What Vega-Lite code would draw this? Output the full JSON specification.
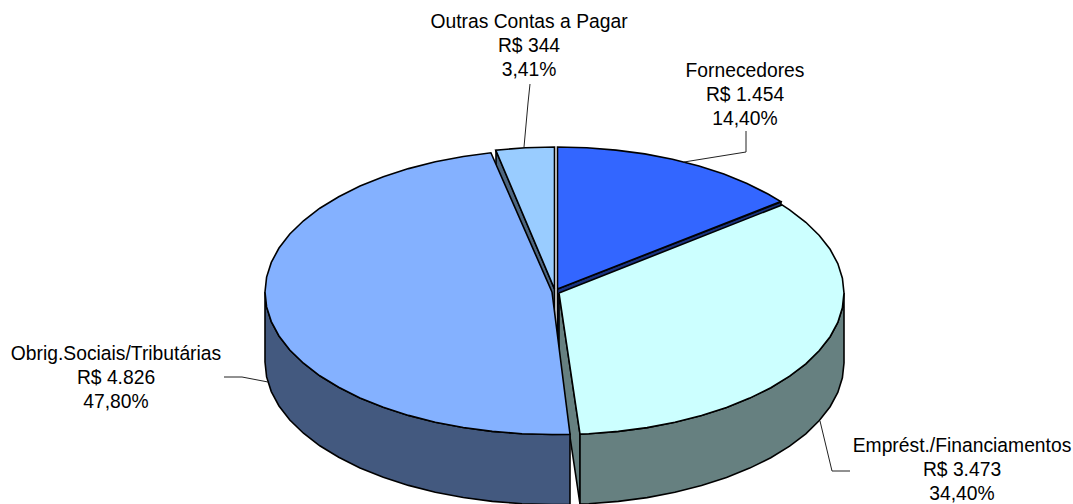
{"$schema":"https://vega.github.io/schema/vega-lite/v6.json","width":1073,"height":504,"padding":0,"autosize":"none","background":"white","view":{"stroke":null},
"datasets":{
"faces":[
{"part":"a","i":0,"x":557.5,"y":289},{"part":"a","i":1,"x":781,"y":202},{"part":"a","i":2,"x":781,"y":272},{"part":"a","i":3,"x":557.5,"y":359},{"part":"a","i":4,"x":557.5,"y":289},
{"part":"b","i":0,"x":554.5,"y":289},{"part":"b","i":1,"x":496,"y":150},{"part":"b","i":2,"x":496,"y":220},{"part":"b","i":3,"x":554.5,"y":359},{"part":"b","i":4,"x":554.5,"y":289},
{"part":"c","i":0,"x":559,"y":293},{"part":"c","i":1,"x":580,"y":434},{"part":"c","i":2,"x":580,"y":504},{"part":"c","i":3,"x":559,"y":363},{"part":"c","i":4,"x":559,"y":293},
{"part":"d","i":0,"x":844,"y":293},{"part":"d","i":1,"x":842.4,"y":307.8},{"part":"d","i":2,"x":837.8,"y":322.4},{"part":"d","i":3,"x":830.1,"y":336.7},{"part":"d","i":4,"x":819.3,"y":350.5},{"part":"d","i":5,"x":805.8,"y":363.8},{"part":"d","i":6,"x":789.6,"y":376.2},{"part":"d","i":7,"x":770.8,"y":387.7},{"part":"d","i":8,"x":749.7,"y":398.1},{"part":"d","i":9,"x":726.5,"y":407.5},{"part":"d","i":10,"x":701.5,"y":415.5},{"part":"d","i":11,"x":674.9,"y":422.3},{"part":"d","i":12,"x":647.1,"y":427.6},{"part":"d","i":13,"x":618.3,"y":431.4},{"part":"d","i":14,"x":588.8,"y":433.7},{"part":"d","i":15,"x":580,"y":434.1},{"part":"d","i":16,"x":580,"y":504.1},{"part":"d","i":17,"x":588.8,"y":503.7},{"part":"d","i":18,"x":618.3,"y":501.4},{"part":"d","i":19,"x":647.1,"y":497.6},{"part":"d","i":20,"x":674.9,"y":492.3},{"part":"d","i":21,"x":701.5,"y":485.5},{"part":"d","i":22,"x":726.5,"y":477.5},{"part":"d","i":23,"x":749.7,"y":468.1},{"part":"d","i":24,"x":770.8,"y":457.7},{"part":"d","i":25,"x":789.6,"y":446.2},{"part":"d","i":26,"x":805.8,"y":433.8},{"part":"d","i":27,"x":819.3,"y":420.5},{"part":"d","i":28,"x":830.1,"y":406.7},{"part":"d","i":29,"x":837.8,"y":392.4},{"part":"d","i":30,"x":842.4,"y":377.8},{"part":"d","i":31,"x":844,"y":363},{"part":"d","i":32,"x":844,"y":293},
{"part":"e","i":0,"x":265,"y":292},{"part":"e","i":1,"x":266.6,"y":306.9},{"part":"e","i":2,"x":271.3,"y":321.6},{"part":"e","i":3,"x":279,"y":336},{"part":"e","i":4,"x":289.8,"y":350},{"part":"e","i":5,"x":303.5,"y":363.25},{"part":"e","i":6,"x":319.8,"y":375.8},{"part":"e","i":7,"x":338.7,"y":387.3},{"part":"e","i":8,"x":360,"y":397.9},{"part":"e","i":9,"x":383.3,"y":407.3},{"part":"e","i":10,"x":408.5,"y":415.4},{"part":"e","i":11,"x":435.3,"y":422.2},{"part":"e","i":12,"x":463.3,"y":427.5},{"part":"e","i":13,"x":492.3,"y":431.4},{"part":"e","i":14,"x":522,"y":433.7},{"part":"e","i":15,"x":552,"y":434.5},{"part":"e","i":16,"x":570,"y":434.2},{"part":"e","i":17,"x":570,"y":504.2},{"part":"e","i":18,"x":552,"y":504.5},{"part":"e","i":19,"x":522,"y":503.7},{"part":"e","i":20,"x":492.3,"y":501.4},{"part":"e","i":21,"x":463.3,"y":497.5},{"part":"e","i":22,"x":435.3,"y":492.2},{"part":"e","i":23,"x":408.5,"y":485.4},{"part":"e","i":24,"x":383.3,"y":477.3},{"part":"e","i":25,"x":360,"y":467.9},{"part":"e","i":26,"x":338.7,"y":457.3},{"part":"e","i":27,"x":319.8,"y":445.8},{"part":"e","i":28,"x":303.5,"y":433.25},{"part":"e","i":29,"x":289.8,"y":420},{"part":"e","i":30,"x":279,"y":406},{"part":"e","i":31,"x":271.3,"y":391.6},{"part":"e","i":32,"x":266.6,"y":376.9},{"part":"e","i":33,"x":265,"y":362},{"part":"e","i":34,"x":265,"y":292},
{"part":"f","i":0,"x":557.5,"y":289},{"part":"f","i":1,"x":557.5,"y":147},{"part":"f","i":2,"x":586.7,"y":147.8},{"part":"f","i":3,"x":616,"y":150.1},{"part":"f","i":4,"x":644.8,"y":153.9},{"part":"f","i":5,"x":672.5,"y":159.3},{"part":"f","i":6,"x":699,"y":166},{"part":"f","i":7,"x":723.9,"y":174.1},{"part":"f","i":8,"x":747,"y":183.5},{"part":"f","i":9,"x":768,"y":194},{"part":"f","i":10,"x":780.8,"y":201.6},{"part":"f","i":11,"x":557.5,"y":289},
{"part":"g","i":0,"x":554.5,"y":289},{"part":"g","i":1,"x":495.7,"y":150.1},{"part":"g","i":2,"x":525.2,"y":147.8},{"part":"g","i":3,"x":554.5,"y":147},{"part":"g","i":4,"x":554.5,"y":289},
{"part":"h","i":0,"x":559,"y":293},{"part":"h","i":1,"x":782,"y":204.9},{"part":"h","i":2,"x":789.6,"y":209.8},{"part":"h","i":3,"x":805.8,"y":222.3},{"part":"h","i":4,"x":819.3,"y":235.5},{"part":"h","i":5,"x":830.1,"y":249.3},{"part":"h","i":6,"x":837.8,"y":263.6},{"part":"h","i":7,"x":842.4,"y":278.2},{"part":"h","i":8,"x":844,"y":293},{"part":"h","i":9,"x":842.4,"y":307.8},{"part":"h","i":10,"x":837.8,"y":322.4},{"part":"h","i":11,"x":830.1,"y":336.7},{"part":"h","i":12,"x":819.3,"y":350.5},{"part":"h","i":13,"x":805.8,"y":363.8},{"part":"h","i":14,"x":789.6,"y":376.2},{"part":"h","i":15,"x":770.8,"y":387.7},{"part":"h","i":16,"x":749.7,"y":398.1},{"part":"h","i":17,"x":726.5,"y":407.5},{"part":"h","i":18,"x":701.5,"y":415.5},{"part":"h","i":19,"x":674.9,"y":422.3},{"part":"h","i":20,"x":647.1,"y":427.6},{"part":"h","i":21,"x":618.3,"y":431.4},{"part":"h","i":22,"x":588.8,"y":433.7},{"part":"h","i":23,"x":580,"y":434.1},{"part":"h","i":24,"x":559,"y":293},
{"part":"i","i":0,"x":552,"y":292},{"part":"i","i":1,"x":490.9,"y":152.8},{"part":"i","i":2,"x":463.3,"y":156.5},{"part":"i","i":3,"x":435.3,"y":161.8},{"part":"i","i":4,"x":408.5,"y":168.6},{"part":"i","i":5,"x":383.3,"y":176.7},{"part":"i","i":6,"x":360,"y":186.1},{"part":"i","i":7,"x":338.7,"y":196.7},{"part":"i","i":8,"x":319.8,"y":208.2},{"part":"i","i":9,"x":303.5,"y":220.75},{"part":"i","i":10,"x":289.8,"y":234},{"part":"i","i":11,"x":279,"y":248},{"part":"i","i":12,"x":271.3,"y":262.4},{"part":"i","i":13,"x":266.6,"y":277.1},{"part":"i","i":14,"x":265,"y":292},{"part":"i","i":15,"x":266.6,"y":306.9},{"part":"i","i":16,"x":271.3,"y":321.6},{"part":"i","i":17,"x":279,"y":336},{"part":"i","i":18,"x":289.8,"y":350},{"part":"i","i":19,"x":303.5,"y":363.25},{"part":"i","i":20,"x":319.8,"y":375.8},{"part":"i","i":21,"x":338.7,"y":387.3},{"part":"i","i":22,"x":360,"y":397.9},{"part":"i","i":23,"x":383.3,"y":407.3},{"part":"i","i":24,"x":408.5,"y":415.4},{"part":"i","i":25,"x":435.3,"y":422.2},{"part":"i","i":26,"x":463.3,"y":427.5},{"part":"i","i":27,"x":492.3,"y":431.4},{"part":"i","i":28,"x":522,"y":433.7},{"part":"i","i":29,"x":552,"y":434.5},{"part":"i","i":30,"x":570,"y":434.2},{"part":"i","i":31,"x":552,"y":292}
],
"leaders":[
{"slice":"Outras","i":0,"x":530,"y":84},{"slice":"Outras","i":1,"x":528,"y":103},{"slice":"Outras","i":2,"x":524,"y":147},
{"slice":"Fornecedores","i":0,"x":746,"y":131},{"slice":"Fornecedores","i":1,"x":746,"y":152},{"slice":"Fornecedores","i":2,"x":684,"y":162},
{"slice":"Obrig","i":0,"x":224,"y":377},{"slice":"Obrig","i":1,"x":242,"y":377},{"slice":"Obrig","i":2,"x":268,"y":382},
{"slice":"Emprest","i":0,"x":820,"y":421},{"slice":"Emprest","i":1,"x":832,"y":471},{"slice":"Emprest","i":2,"x":850,"y":471}
],
"labels":[
{"slice":"Outras Contas a Pagar","value":344,"share":3.41,"label":"Outras Contas a Pagar\nR$ 344\n3,41%","x":529,"y":28},
{"slice":"Fornecedores","value":1454,"share":14.40,"label":"Fornecedores\nR$ 1.454\n14,40%","x":745,"y":77},
{"slice":"Obrig.Sociais/Tributárias","value":4826,"share":47.80,"label":"Obrig.Sociais/Tributárias\nR$ 4.826\n47,80%","x":116,"y":360},
{"slice":"Emprést./Financiamentos","value":3473,"share":34.40,"label":"Emprést./Financiamentos\nR$ 3.473\n34,40%","x":962,"y":452}
]},
"layer":[
{"data":{"name":"faces"},"mark":{"type":"line","stroke":"black","strokeWidth":1.6,"strokeJoin":"miter","clip":true},
"encoding":{"x":{"field":"x","type":"quantitative","scale":{"domain":[0,1073]},"axis":null},"y":{"field":"y","type":"quantitative","scale":{"domain":[504,0]},"axis":null},"order":{"field":"i","type":"quantitative"},
"fill":{"field":"part","type":"nominal","legend":null,"scale":{"domain":["a","b","c","d","e","f","g","h","i"],"range":["#1a3380","#4d6680","#668080","#668080","#43597f","#3366ff","#99ccff","#ccffff","#84b1ff"]}}}},
{"data":{"name":"leaders"},"mark":{"type":"line","stroke":"#222222","strokeWidth":1},
"encoding":{"x":{"field":"x","type":"quantitative","scale":{"domain":[0,1073]},"axis":null},"y":{"field":"y","type":"quantitative","scale":{"domain":[504,0]},"axis":null},"order":{"field":"i","type":"quantitative"},"detail":{"field":"slice","type":"nominal"}}},
{"data":{"name":"labels"},"mark":{"type":"text","font":"Liberation Sans","fontSize":19.3,"lineBreak":"\n","lineHeight":24,"align":"center","baseline":"alphabetic","color":"black"},
"encoding":{"x":{"field":"x","type":"quantitative","scale":{"domain":[0,1073]},"axis":null},"y":{"field":"y","type":"quantitative","scale":{"domain":[504,0]},"axis":null},"text":{"field":"label","type":"nominal"}}}
]}
